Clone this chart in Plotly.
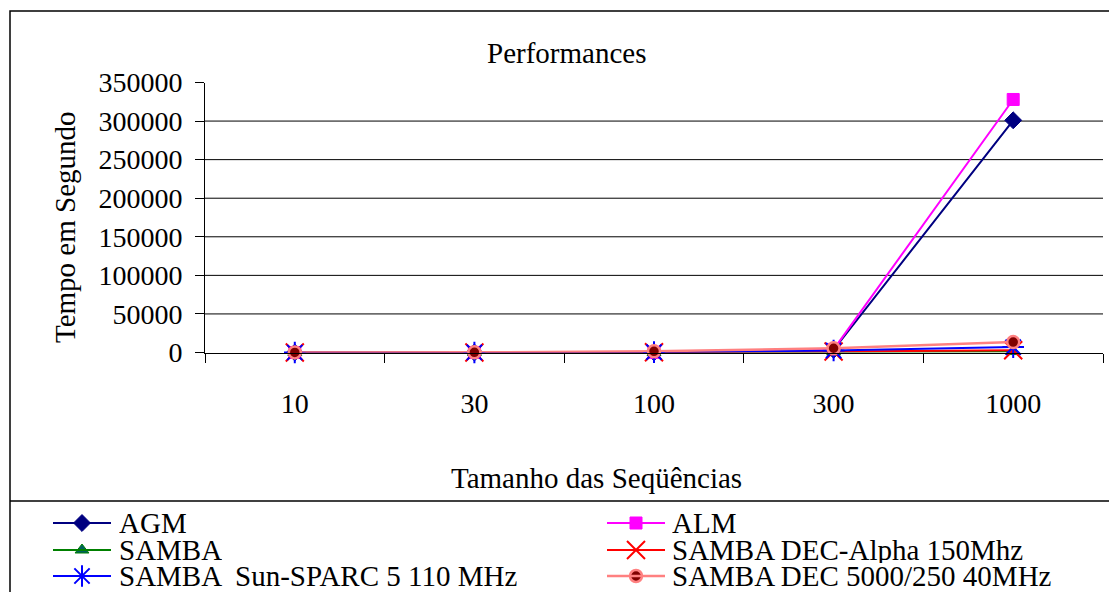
import plotly.graph_objects as go

# ---------------- data ----------------
categories = ["10", "30", "100", "300", "1000"]
series_names = ["AGM", "ALM", "SAMBA", "SAMBA DEC-Alpha 150Mhz",
                "SAMBA  Sun-SPARC 5 110 MHz", "SAMBA DEC 5000/250 40MHz"]
agm = [1, 10, 200, 3500, 301000]
alm = [1, 12, 250, 4000, 328000]
samba = [2, 10, 100, 600, 1200]
samba_dec_alpha = [5, 30, 250, 1200, 3000]
samba_sparc = [8, 60, 500, 2500, 7000]
samba_dec5000 = [30, 200, 1500, 5500, 13500]
y_ticks = [0, 50000, 100000, 150000, 200000, 250000, 300000, 350000]
grid_values = [50000, 100000, 150000, 200000, 250000, 300000]

chart_title = "Performances"
x_title = "Tamanho das Seqüências"
y_title = "Tempo em Segundo"

# ---------------- styles ----------------
FONT = "Liberation Serif"
W, H = 1109, 592
styles = [
    dict(color="#000080", width=2, symbol="diamond", size=13, fill="#000080", lcolor="#000080", lw=1),
    dict(color="#FF00FF", width=2, symbol="square", size=12, fill="#FF00FF", lcolor="#FF00FF", lw=1),
    dict(color="#008000", width=2, symbol="triangle-up", size=12, fill="#006060", lcolor="#008000", lw=1),
    dict(color="#FF0000", width=2, symbol="x-thin-open", size=18, fill="#FF0000", lcolor="#FF0000", lw=2),
    dict(color="#0000FF", width=2, symbol="asterisk-open", size=18, fill="#0000FF", lcolor="#0000FF", lw=2),
    dict(color="#FF8080", width=2.5, symbol="circle", size=12, fill="#800000", lcolor="#FF8080", lw=2.5),
]
all_series = [agm, alm, samba, samba_dec_alpha, samba_sparc, samba_dec5000]

# plot area in pixels
PL, PR, PT, PB = 205, 1103, 82.5, 352.5

fig = go.Figure()
for name, vals, st in zip(series_names, all_series, styles):
    fig.add_trace(go.Scatter(
        x=categories, y=vals, name=name, mode="lines+markers",
        line=dict(color=st["color"], width=st["width"]),
        marker=dict(symbol=st["symbol"], size=st["size"], color=st["fill"],
                    line=dict(color=st["lcolor"], width=st["lw"])),
        xaxis="x", yaxis="y", cliponaxis=False,
    ))

# legend samples (pixel coordinate overlay axes)
leg_rows = [523, 550, 576]
leg_cols = [(53, 111, 118), (607, 665, 671)]
shapes = []
annotations = []
for i, (name, st) in enumerate(zip(series_names, styles)):
    r, c = divmod(i, 2)
    x0, x1, xt = leg_cols[c]
    y = leg_rows[r]
    shapes.append(dict(type="line", xref="x2", yref="y2", x0=x0, x1=x1, y0=y, y1=y,
                       line=dict(color=st["color"], width=st["width"])))
    fig.add_trace(go.Scatter(
        x=[(x0 + x1) / 2], y=[y], mode="markers", showlegend=False, hoverinfo="skip",
        marker=dict(symbol=st["symbol"], size=st["size"], color=st["fill"],
                    line=dict(color=st["lcolor"], width=st["lw"])),
        xaxis="x2", yaxis="y2", cliponaxis=False,
    ))
    annotations.append(dict(xref="x2", yref="y2", x=xt, y=y, text=name, showarrow=False,
                            xanchor="left", yanchor="middle", height=26, valign="middle",
                            borderpad=0,
                            font=dict(family=FONT, size=29, color="black")))

# gridlines (excluding top)
for gv in grid_values:
    shapes.append(dict(type="line", xref="x domain", yref="y", x0=0, x1=1, y0=gv, y1=gv,
                       layer="below", line=dict(color="black", width=1)))

# outer frame and legend separator
shapes.append(dict(type="rect", xref="x2", yref="y2", x0=10, x1=1125, y0=11, y1=610,
                   line=dict(color="black", width=1.5)))
shapes.append(dict(type="line", xref="x2", yref="y2", x0=10, x1=1125, y0=501, y1=501,
                   line=dict(color="black", width=1.5)))

# titles
annotations.append(dict(xref="x2", yref="y2", x=566, y=53, text=chart_title, showarrow=False,
                        xanchor="center", yanchor="middle", font=dict(family=FONT, size=29, color="black")))
annotations.append(dict(xref="x2", yref="y2", x=596, y=478, text=x_title, showarrow=False,
                        xanchor="center", yanchor="middle", font=dict(family=FONT, size=29, color="black")))
annotations.append(dict(xref="x2", yref="y2", x=65, y=227, text=y_title, showarrow=False, textangle=-90,
                        xanchor="center", yanchor="middle", font=dict(family=FONT, size=29, color="black")))

fig.update_layout(
    width=W, height=H, autosize=False,
    margin=dict(l=0, r=0, t=0, b=0, pad=0),
    paper_bgcolor="white", plot_bgcolor="rgba(0,0,0,0)",
    font=dict(family=FONT, color="black"),
    showlegend=False,
    xaxis=dict(type="category", domain=[PL / W, PR / W], range=[-0.5, 4.5],
               anchor="y", showline=True, linecolor="black", linewidth=1,
               ticks="outside", tickson="boundaries", ticklen=9, tickcolor="black", tickwidth=1,
               showgrid=False, zeroline=False, automargin=False,
               tickfont=dict(family=FONT, size=28, color="black"), ticklabelstandoff=26,
               fixedrange=True),
    yaxis=dict(domain=[(H - PB) / H, (H - PT) / H], range=[0, 350000], anchor="x",
               tickvals=y_ticks, ticktext=[str(v) for v in y_ticks],
               showline=True, linecolor="black", linewidth=1,
               ticks="outside", ticklen=9, tickcolor="black", tickwidth=1,
               showgrid=False, zeroline=False, automargin=False,
               tickfont=dict(family=FONT, size=28, color="black"), ticklabelstandoff=7,
               fixedrange=True),
    xaxis2=dict(domain=[0, 1], range=[0, W], anchor="y2", visible=False, fixedrange=True),
    yaxis2=dict(domain=[0, 1], range=[H, 0], anchor="x2", visible=False, fixedrange=True),
    shapes=shapes,
    annotations=annotations,
)

fig.write_html("out.html")
